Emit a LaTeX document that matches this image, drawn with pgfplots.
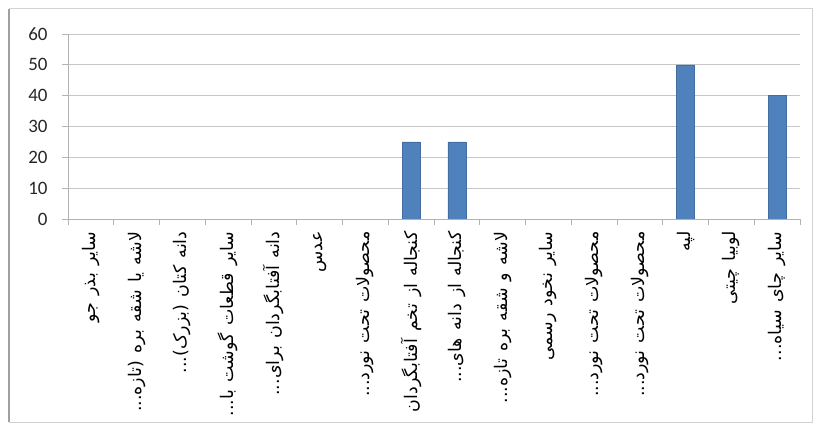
\documentclass[border=0pt]{standalone}
\usepackage{fontspec}
\usepackage{pgfplots}
\pgfplotsset{compat=1.18}
\setmainfont{Carlito}
\newfontfamily\arabicfont[Script=Arabic, WordSpace=1.3]{DejaVu Sans}
\TeXXeTstate=1
\newcommand\etc{...}
\definecolor{barblue}{HTML}{4F81BD}

\begin{document}
\begin{tikzpicture}
\useasboundingbox (0bp,0bp) rectangle (815bp,423bp);
% chart frame
\draw[gray!35, line width=1bp] (9bp,1bp) rectangle (812bp,414bp);
\draw[gray!75, line width=1.6bp] (9bp,1bp) -- (9bp,414bp);
\begin{axis}[
    at={(68bp,204bp)}, anchor=south west,
    scale only axis,
    width=732bp, height=185bp,
    xmin=0.5, xmax=16.5,
    ymin=0, ymax=60,
    ytick={0,10,...,60},
    xtick={1,...,16},
    minor xtick={0.5,1.5,...,16.5},
    axis lines*=left,
    axis line style={gray!60, line width=1bp},
    tick align=outside,
    major tick length=6bp,
    minor tick length=6bp,
    tick style={gray!60, line width=0.8bp},
    major x tick style={draw=none},
    ymajorgrids,
    major grid style={gray!45, line width=1bp},
    /pgf/number format/assume math mode=true,
    yticklabel style={font=\fontsize{19}{19}\selectfont, text=black!85, xshift=-11bp},
    xticklabel shift=3bp,
    xticklabel style={rotate=90, anchor=east, font=\arabicfont\fontsize{17.5}{17.5}\selectfont},
    xticklabels={
        {\beginR سایر بذر جو\endR},
        {\beginR لاشه یا شقه بره (تازه\etc\endR},
        {\beginR دانه کتان (بزرک)\etc\endR},
        {\beginR سایر قطعات گوشت با\etc\endR},
        {\beginR دانه آفتابگردان برای\etc\endR},
        {\beginR عدس\endR},
        {\beginR محصولات تحت نورد\etc\endR},
        {\beginR کنجاله از تخم آفتابگردان\endR},
        {\beginR کنجاله از دانه های\etc\endR},
        {\beginR لاشه و شقه بره تازه\etc\endR},
        {\beginR سایر نخود رسمی\endR},
        {\beginR محصولات تحت نورد\etc\endR},
        {\beginR محصولات تحت نورد\etc\endR},
        {\beginR لپه\endR},
        {\beginR لوبیا چیتی\endR},
        {\beginR سایر چای سیاه\etc\endR}
    },
    ybar,
    bar width=18bp,
]
\addplot[fill=barblue, draw=barblue!85!black] coordinates {
    (8,25) (9,25) (14,50) (16,40)
};
\end{axis}
\end{tikzpicture}
\end{document}
